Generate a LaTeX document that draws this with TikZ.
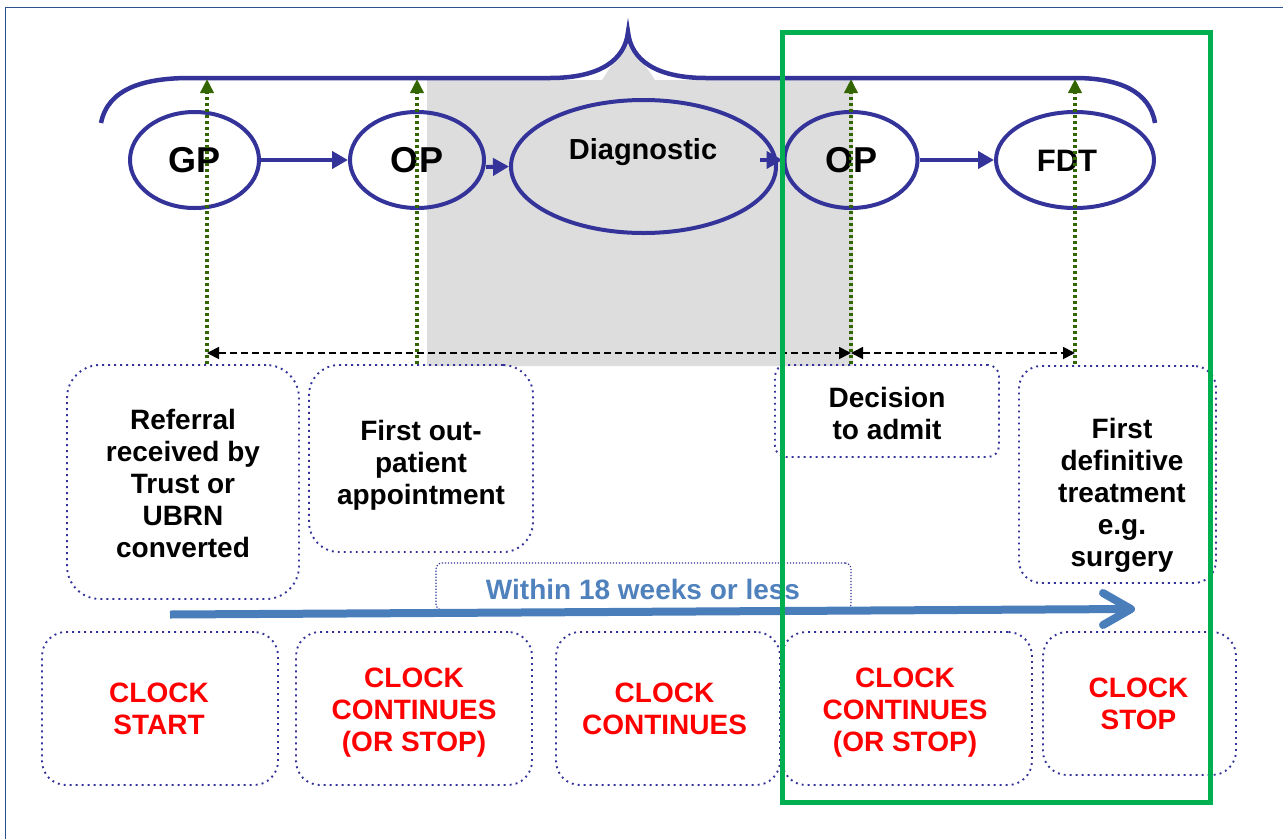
\documentclass[tikz,border=0pt]{standalone}
\usepackage{fontspec}
\setmainfont{Liberation Sans}
\usetikzlibrary{arrows.meta,calc,shapes.geometric}

\definecolor{navy}{HTML}{333399}
\definecolor{markgreen}{HTML}{336600}
\definecolor{framegreen}{HTML}{00B050}
\definecolor{calloutgray}{HTML}{DDDDDD}
\definecolor{pathblue}{HTML}{4A7EBB}
\definecolor{noteblue}{HTML}{4F81BD}
\definecolor{pageedge}{HTML}{2E528F}

\begin{document}
\begin{tikzpicture}[x=1pt,y=-1pt,
  stage/.style={ellipse, draw=navy, line width=4pt, inner sep=0pt,
    font=\bfseries\fontsize{36}{40}\selectfont},
  flow/.style={navy, line width=4pt, -{Triangle[length=16pt,width=17pt]}},
  marker/.style={markgreen, line width=3.5pt, dash pattern=on 3pt off 3pt,
    -{Triangle[length=14pt,width=13pt]}},
  span/.style={black, line width=1.8pt, dash pattern=on 7pt off 4pt,
    {Triangle[length=12pt,width=12pt]}-{Triangle[length=12pt,width=12pt]}},
  dotbox/.style={draw=navy, line width=1.9pt, dash pattern=on 1.9pt off 4.1pt,
    rounded corners=#1, inner sep=0pt},
  finebox/.style={draw=navy, line width=1.2pt, dash pattern=on 1.2pt off 1.8pt,
    rounded corners=6pt, inner sep=0pt},
  lbl/.style={font=\bfseries\fontsize{28}{32}\selectfont, align=center, inner sep=0pt},
  clk/.style={lbl, text=red},
  wide/.style={pathblue, line width=8pt},
]
\useasboundingbox (0,0) rectangle (1283,839);

% page frame (runs off the right and bottom edges)
\draw[pageedge, line width=1.6pt] (5.5,839) -- (5.5,7.5) -- (1283,7.5);

% shaded callout pointing at the brace tip
\fill[calloutgray] (427,366) -- (427,80) -- (602,80) -- (628,40) -- (655,80)
  -- (853,80) -- (853,366) -- cycle;

% stages of the pathway
\node[stage, minimum width=129pt, minimum height=96pt] (gp)   at (194.5,160) {GP};
\node[stage, minimum width=134pt, minimum height=96pt] (op1)  at (417,160) {OP};
\node[stage, minimum width=265pt, minimum height=133pt] (diag) at (643.5,166.5) {};
\node[stage, minimum width=133pt, minimum height=96pt] (op2)  at (851,160) {OP};
\node[stage, minimum width=158pt, minimum height=96pt] (fdt)  at (1075,160) {};
\node[font=\bfseries\fontsize{29}{33}\selectfont, inner sep=0pt] (diagtext) at (643,152) {Diagnostic};
\node[font=\bfseries\fontsize{31}{35}\selectfont, inner sep=0pt] (fdttext) at (1067,161) {FDT};

\draw[flow] (gp) -- (op1);
\draw[flow] ([yshift=-7pt]op1.east) -- (diag.west);
\draw[flow] ([xshift=-18pt,yshift=6.5pt]diag.east) -- (op2.west);
\draw[flow] (op2) -- (fdt);

% brace over the whole pathway
\draw[navy, line width=4.5pt]
  (101,123) .. controls (108,88) and (145,78) .. (190,78) -- (550,78)
  .. controls (600,78) and (625,60) .. (628,32)
  .. controls (631,60) and (656,78) .. (706,78) -- (1075,78)
  .. controls (1120,78) and (1150,92) .. (1155,123);

% event boxes
\node[dotbox=33pt, minimum width=232pt, minimum height=234pt] (b1) at (183,482) {};
\node[dotbox=30pt, minimum width=224pt, minimum height=187pt] (b2) at (421,458.5) {};
\node[dotbox=11pt, minimum width=224pt, minimum height=92pt]  (b3) at (887,411) {};
\node[dotbox=22pt, minimum width=197pt, minimum height=217pt] (b4) at (1117.5,474.5) {};

\node[lbl] (t1) at (183,483) {Referral\\received by\\Trust or\\UBRN\\converted};
\node[lbl] (t2) at (421,465) {First out-\\patient\\appointment};
\node[lbl] (t3) at (887,413) {Decision\\to admit};
\node[lbl] (t4) at (1122,495) {First\\definitive\\treatment\\e.g.\\surgery};

% time-line markers and spans
\coordinate (m1) at (207,364);  \coordinate (m1t) at (207,79);
\coordinate (m2) at (417,364);  \coordinate (m2t) at (417,79);
\coordinate (m3) at (851,364);  \coordinate (m3t) at (851,79);
\coordinate (m4) at (1075,364); \coordinate (m4t) at (1075,79);
\draw[marker] (m1) -- (m1t);
\draw[marker] (m2) -- (m2t);
\draw[marker] (m3) -- (m3t);
\draw[marker] (m4) -- (m4t);

\coordinate (s1) at (207,353);
\coordinate (s3) at (851,353);
\coordinate (s4) at (1075,353);
\draw[span] (s1) -- (s3);
\draw[span] (s3) -- (s4);

% 18-week target
\node[finebox, minimum width=415pt, minimum height=47pt] (win) at (643.5,586.5) {};
\node[lbl, text=noteblue] (wintext) at (643,589) {Within 18 weeks or less};
\coordinate (ws) at (170,614.5);
\coordinate (we) at (1131,609);
\draw[wide] (ws) -- (we);
\draw[wide, line cap=round, line join=round]
  ($(we)+(-28,-16)$) -- (we) -- ($(we)+(-28,16)$);

% clock status boxes
\node[dotbox=24pt, minimum width=236pt, minimum height=153pt] (c1) at (160,708.5) {};
\node[dotbox=24pt, minimum width=236pt, minimum height=153pt] (c2) at (414,708.5) {};
\node[dotbox=24pt, minimum width=224pt, minimum height=153pt] (c3) at (668,708.5) {};
\node[dotbox=24pt, minimum width=250pt, minimum height=153pt] (c4) at (907,708.5) {};
\node[dotbox=24pt, minimum width=193pt, minimum height=143pt] (c5) at (1139.5,703.5) {};

\node[clk] (ct1) at (159,709) {CLOCK\\START};
\node[clk] (ct2) at (414,713) {CLOCK\\CONTINUES\\(OR STOP)};
\node[clk] (ct3) at (664.5,709) {CLOCK\\CONTINUES};
\node[clk] (ct4) at (905,713) {CLOCK\\CONTINUES\\(OR STOP)};
\node[clk] (ct5) at (1138.5,704) {CLOCK\\STOP};

% highlighted decision-to-treatment stretch
\draw[framegreen, line width=5pt] (782,32) rectangle (1210,802);
\end{tikzpicture}
\end{document}
